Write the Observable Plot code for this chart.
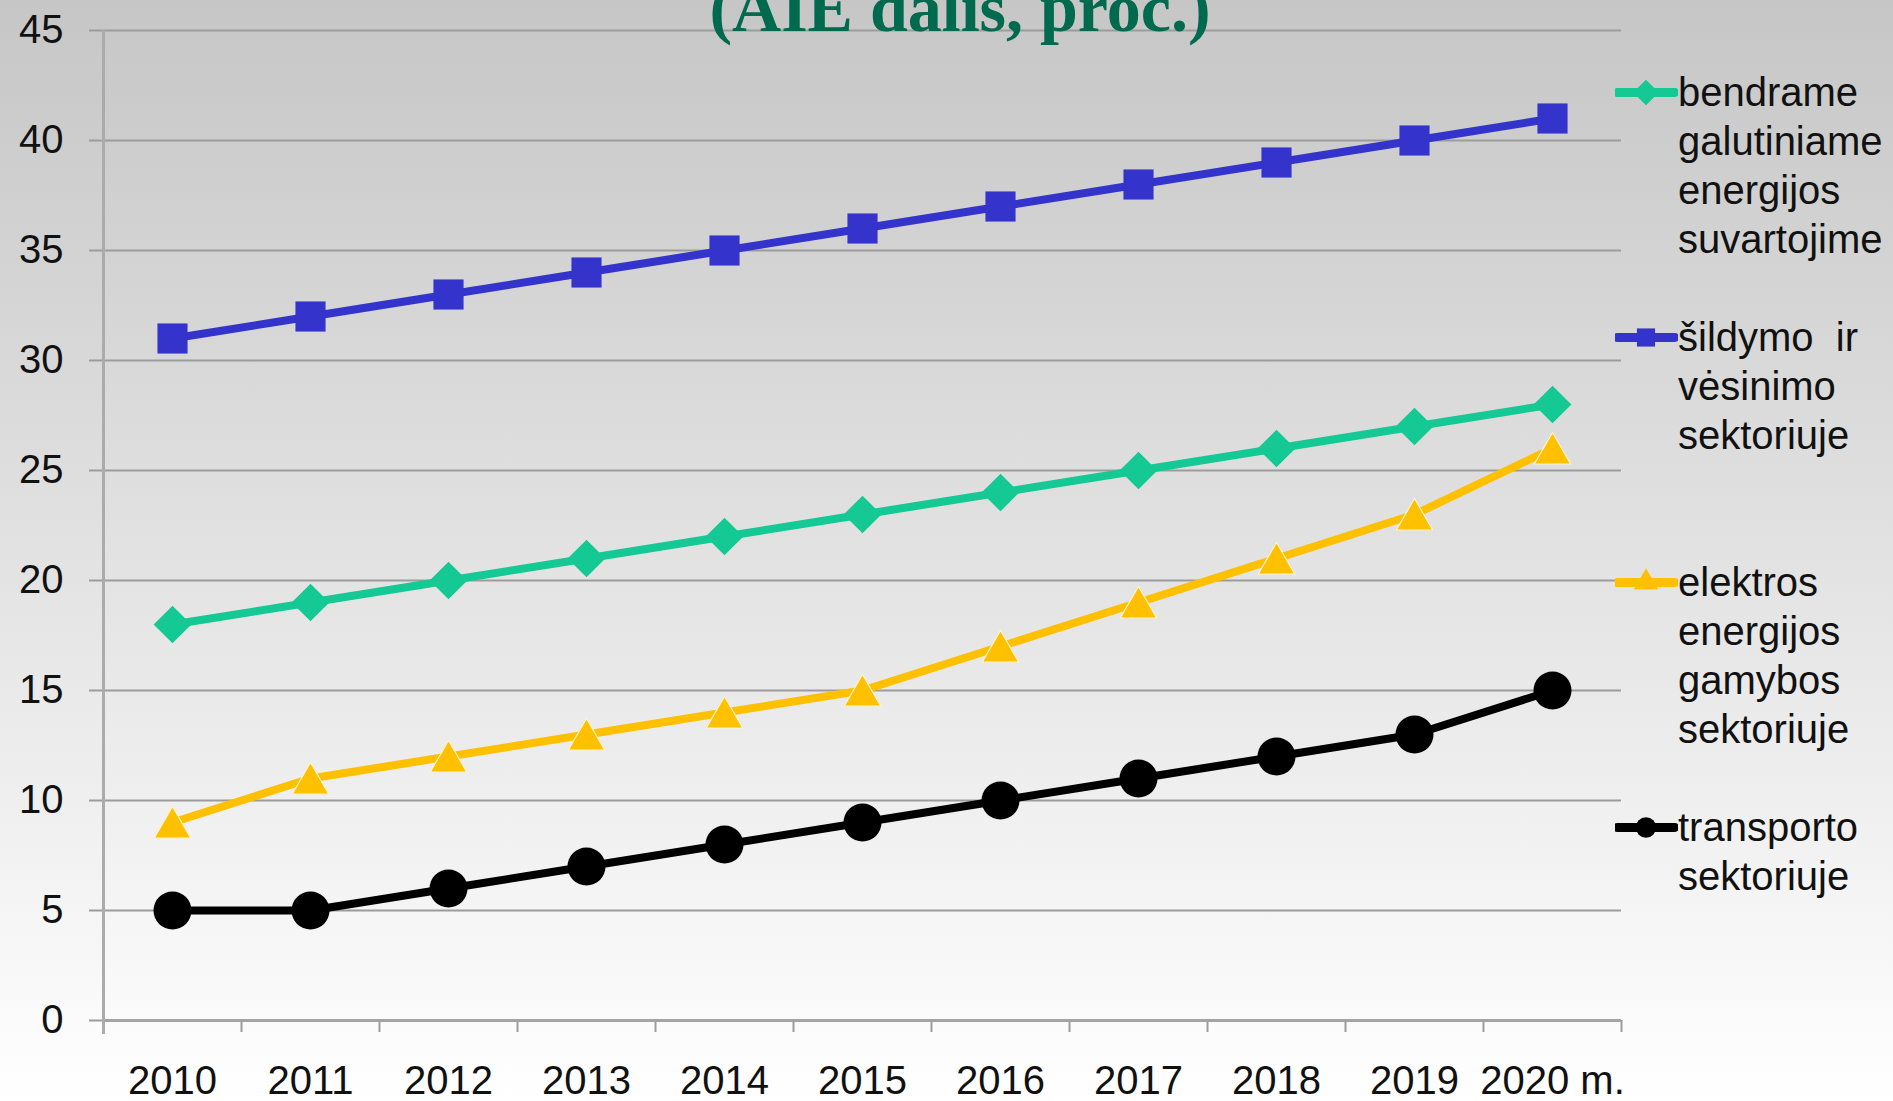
<!DOCTYPE html>
<html>
<head>
<meta charset="utf-8">
<script src="https://cdn.jsdelivr.net/npm/d3@7"></script>
<script src="https://cdn.jsdelivr.net/npm/@observablehq/plot@0.6"></script>
<style>
  html, body { margin: 0; padding: 0; }
  body { width: 1893px; height: 1101px; overflow: hidden; }
  #page {
    position: relative; width: 1893px; height: 1101px;
    background: linear-gradient(to bottom, #c6c6c6 0%, #e2e2e2 50%, #ffffff 100%);
    font-family: "Liberation Sans", Arial, sans-serif;
  }
  #chart { position: absolute; left: 0; top: 0; }
  #title { position: absolute; left: 0; top: 0; }
  #legend { position: absolute; left: 1615px; top: 68px; }
  .entry { display: flex; align-items: flex-start; }
  .entry svg { flex: none; }
  .entry .lbl { font-size: 40px; line-height: 49px; color: #111; white-space: pre; }
</style>
</head>
<body>
<div id="page">
  <div id="chart"></div>
  <svg id="title" width="1893" height="60">
    <text x="960" y="31" text-anchor="middle" font-family="'Liberation Serif', 'Times New Roman', serif"
          font-weight="bold" font-size="68" fill="#006a4e">(AIE dalis, proc.)</text>
  </svg>
  <div id="legend"></div>
</div>
<script>
// ---- data ----
const years = [2010, 2011, 2012, 2013, 2014, 2015, 2016, 2017, 2018, 2019, 2020];
const xTickLabels = ["2010", "2011", "2012", "2013", "2014", "2015", "2016", "2017", "2018", "2019", "2020 m."];
const yTicks = [0, 5, 10, 15, 20, 25, 30, 35, 40, 45];

const bendrame   = [18, 19, 20, 21, 22, 23, 24, 25, 26, 27, 28];
const sildymo    = [31, 32, 33, 34, 35, 36, 37, 38, 39, 40, 41];
const elektros   = [9, 11, 12, 13, 14, 15, 17, 19, 21, 23, 26];
const transporto = [5, 5, 6, 7, 8, 9, 10, 11, 12, 13, 15];

const seriesNames = ["bendrame", "šildymo", "elektros", "transporto"];
const legendLines = [
  ["bendrame", "galutiniame", "energijos", "suvartojime"],
  ["šildymo  ir", "vėsinimo", "sektoriuje"],
  ["elektros", "energijos", "gamybos", "sektoriuje"],
  ["transporto", "sektoriuje"]
];
const seriesValues = [bendrame, sildymo, elektros, transporto];
const seriesColors = ["#14c994", "#3434cc", "#ffc000", "#000000"];
const seriesSymbols = ["diamond2", "square", "triangle", "circle"];
const seriesR = [17, 17, 13.5, 19];
const seriesDy = [0, 0, 5, 0];
const legendGap = [49, 98, 49, 0];

// ---- build ----
const boundaries = [...years.map(y => y - 0.5), years[years.length - 1] + 0.5];
const labelMap = new Map(years.map((y, i) => [y, xTickLabels[i]]));

const seriesMarks = [];
seriesNames.forEach((name, k) => {
  const rows = years.map((year, i) => ({year, value: seriesValues[k][i], series: name}));
  seriesMarks.push(Plot.line(rows, {
    x: "year", y: "value", stroke: seriesColors[k], strokeWidth: 8,
    strokeLinejoin: "round", strokeLinecap: "round"
  }));
  seriesMarks.push(Plot.dot(rows, {
    x: "year", y: "value", symbol: () => seriesSymbols[k], r: seriesR[k],
    dy: seriesDy[k],
    fill: seriesColors[k],
    stroke: name === "elektros" ? "#fff4c8" : "none", strokeWidth: 1.2
  }));
});

const chart = Plot.plot({
  width: 1893,
  height: 1101,
  marginLeft: 103,
  marginRight: 272,
  marginTop: 30,
  marginBottom: 81,
  x: {type: "linear", domain: [2009.5, 2020.5]},
  y: {domain: [0, 45]},
  style: {
    background: "transparent",
    fontFamily: "'Liberation Sans', Arial, sans-serif",
    fontSize: "40px",
    color: "#111",
    overflow: "visible"
  },
  marks: [
    Plot.gridY(yTicks, {stroke: "#9c9c9c", strokeOpacity: 1, strokeWidth: 2}),
    Plot.axisY(yTicks, {tickSize: 14, tickPadding: 26, stroke: "#9c9c9c", strokeWidth: 2,
      label: null, tickFormat: d => String(d)}),
    Plot.axisX(boundaries, {tickSize: 12, tickFormat: () => "", stroke: "#9c9c9c",
      strokeWidth: 2, label: null}),
    Plot.axisX(years, {tickSize: 0, tickPadding: 45, label: null,
      tickFormat: d => labelMap.get(d)}),
    Plot.ruleY([0], {stroke: "#a4a4a4", strokeWidth: 3}),
    Plot.ruleX([2009.5], {stroke: "#ababab", strokeWidth: 3, insetBottom: -14}),
    ...seriesMarks
  ]
});
document.getElementById("chart").appendChild(chart);

// ---- legend ----
const legend = d3.select("#legend");
const symbolTypes = {diamond2: d3.symbolDiamond2, square: d3.symbolSquare, triangle: d3.symbolTriangle, circle: d3.symbolCircle};
const legendSymbolSize = [420, 330, 260, 330];
seriesNames.forEach((name, k) => {
  const entry = legend.append("div").attr("class", "entry").style("margin-bottom", legendGap[k] + "px");
  const svg = entry.append("svg").attr("width", 63).attr("height", 49);
  svg.append("line").attr("x1", 2).attr("x2", 60).attr("y1", 24.5).attr("y2", 24.5)
    .attr("stroke", seriesColors[k]).attr("stroke-width", 9).attr("stroke-linecap", "round");
  svg.append("path").attr("transform", "translate(31,24.5)")
    .attr("d", d3.symbol(symbolTypes[seriesSymbols[k]], legendSymbolSize[k])())
    .attr("fill", seriesColors[k]);
  entry.append("div").attr("class", "lbl").text(legendLines[k].join("\n"));
});
</script>
</body>
</html>
